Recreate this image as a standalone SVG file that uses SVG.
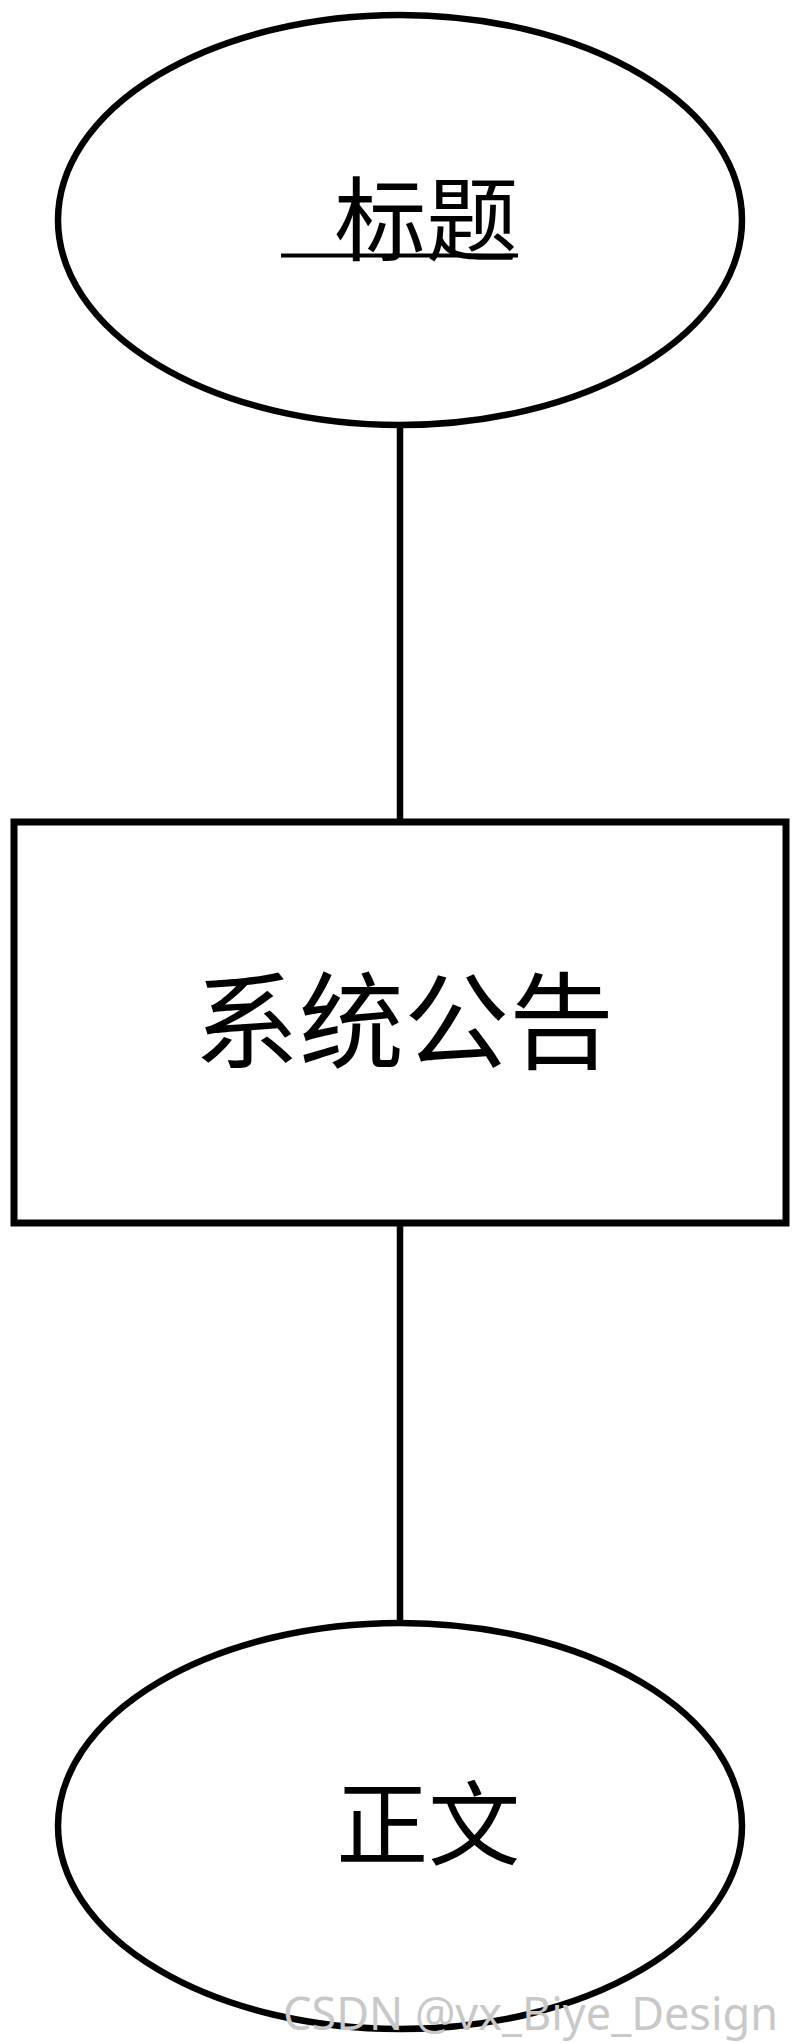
<svg xmlns="http://www.w3.org/2000/svg" width="800" height="2043" viewBox="0 0 800 2043">
  <style>
    .shape { fill: #ffffff; stroke: #000000; }
    .ell { stroke-width: 6.5; }
    .box { stroke-width: 7; }
    .conn { stroke: #000000; stroke-width: 6.5; fill: none; }
    .uline { stroke: #000000; stroke-width: 4; }
    .lbl { font-family: "Liberation Mono", "Noto Sans CJK SC", sans-serif; fill: #000000; }
    .wm { font-family: "Noto Sans", "Open Sans", sans-serif; fill: #c8c8c8; font-size: 46px; }
  </style>
  <rect x="0" y="0" width="800" height="2043" fill="#ffffff"/>
  <g id="connectors">
    <line class="conn" x1="400" y1="425" x2="400" y2="822"/>
    <line class="conn" x1="400" y1="1223" x2="400" y2="1623"/>
  </g>
  <g id="node-title">
    <ellipse class="shape ell" cx="400" cy="220" rx="342" ry="205"/>
    <text class="lbl" x="279" y="254" font-size="92" xml:space="preserve"> 标题</text>
    <line class="uline" x1="281" y1="255.5" x2="518" y2="255.5"/>
  </g>
  <g id="node-announcement">
    <rect class="shape box" x="14" y="822" width="772" height="401"/>
    <text class="lbl" x="404" y="1060" font-size="105" text-anchor="middle">系统公告</text>
  </g>
  <g id="node-body">
    <ellipse class="shape ell" cx="400" cy="1826" rx="342" ry="203"/>
    <text class="lbl" x="281" y="1858" font-size="92" xml:space="preserve"> 正文</text>
  </g>
  <text class="wm" x="283" y="2030" textLength="495" lengthAdjust="spacingAndGlyphs">CSDN @vx_Biye_Design</text>
</svg>
